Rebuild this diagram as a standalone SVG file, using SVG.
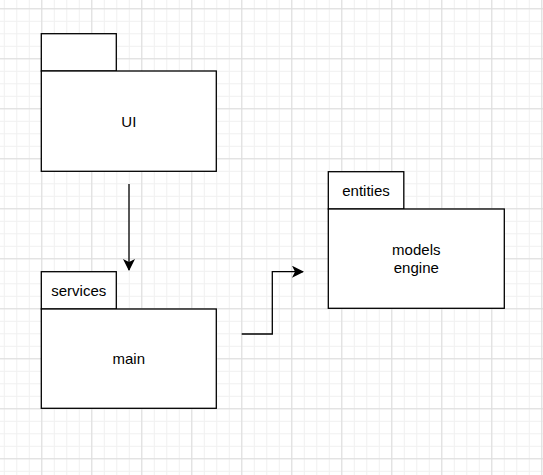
<svg xmlns="http://www.w3.org/2000/svg" width="543" height="475" viewBox="0 0 543 475">
<defs>
<pattern id="minor" x="3.8" y="8.3" width="12.5" height="12.5" patternUnits="userSpaceOnUse">
<path d="M0.5 0 V12.5 M0 0.5 H12.5" stroke="#f0f0f0" stroke-width="1" fill="none"/>
</pattern>
<pattern id="major" x="41.3" y="8.3" width="50" height="50" patternUnits="userSpaceOnUse">
<path d="M0.5 0 V50 M0 0.5 H50" stroke="#dcdcdc" stroke-width="1" fill="none"/>
</pattern>
<marker id="arr" viewBox="0 0 12 12" refX="11" refY="6" markerWidth="12" markerHeight="12" markerUnits="userSpaceOnUse" orient="auto">
<path d="M0 0 L12 6 L0 12 L3 6 Z" fill="#000"/>
</marker>
</defs>
<style>
.box{fill:#fff;stroke:#000;stroke-width:1.3}
.t{font-family:"Liberation Sans",Arial,sans-serif;font-size:15px;fill:#000;text-anchor:middle}
.c{fill:none;stroke:#000;stroke-width:1.3}
</style>
<rect width="543" height="475" fill="#fff"/>
<rect width="543" height="475" fill="url(#minor)"/>
<rect width="543" height="475" fill="url(#major)"/>
<g id="ui">
<rect class="box" x="41.3" y="33.7" width="75" height="37.3"/>
<rect class="box" x="41.3" y="71" width="175" height="100.3"/>
<text class="t" x="128.8" y="126.5">UI</text>
</g>
<g id="services">
<rect class="box" x="41.3" y="271.7" width="75" height="37.3"/>
<rect class="box" x="41.3" y="309" width="175" height="99.3"/>
<text class="t" x="78.8" y="295.5">services</text>
<text class="t" x="128.8" y="364">main</text>
</g>
<g id="entities">
<rect class="box" x="328.3" y="171.7" width="75.5" height="37.3"/>
<rect class="box" x="328.3" y="209" width="176" height="99.3"/>
<text class="t" x="366" y="195.5">entities</text>
<text class="t" x="416.3" y="254.5">models</text>
<text class="t" x="416.3" y="273">engine</text>
</g>
<g id="connectors">
<path class="c" d="M129 184 V270" marker-end="url(#arr)"/>
<path class="c" d="M241.7 334 H272.3 V271.7 H303" marker-end="url(#arr)"/>
</g>
</svg>
